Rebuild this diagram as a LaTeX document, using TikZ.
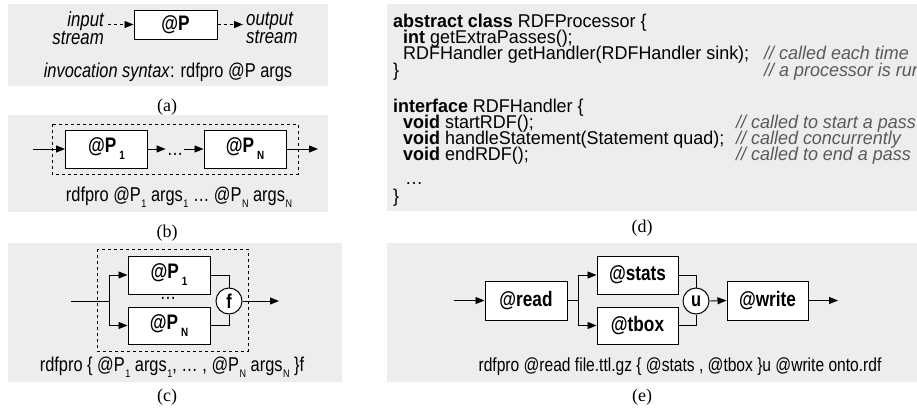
\documentclass[tikz,border=0pt]{standalone}
\usepackage{fontspec}
\setmainfont{Liberation Sans}[FakeStretch=0.82]
\newfontfamily\codefont{Liberation Sans}[FakeStretch=0.97]
\newfontfamily\labelfont{Liberation Serif}
\usetikzlibrary{arrows.meta}
\definecolor{panelgray}{HTML}{EDEDED}
\definecolor{commentgray}{HTML}{5A5A5A}
% lowered index used in captions and box labels
\newcommand\capsub[1]{\kern0.5pt\raisebox{-6pt}{\fontsize{11}{11}\selectfont #1}}
\newcommand\boxsub[1]{\kern3pt\raisebox{-7pt}{\fontsize{12}{12}\selectfont\bfseries #1}}
\begin{document}
\begin{tikzpicture}[x=1pt,y=-1pt,
  proc/.style={draw, line width=1pt, fill=white, minimum width=82pt, minimum height=38pt,
    inner sep=0pt, font=\fontsize{21}{21}\selectfont\bfseries},
  joiner/.style={draw, circle, line width=1pt, fill=white, minimum size=26pt, inner sep=0pt,
    font=\fontsize{20}{20}\selectfont\bfseries},
  flow/.style={line width=0.9pt, -{Triangle[length=9pt,width=7pt]}},
  wire/.style={line width=0.9pt},
  group/.style={draw, dashed, line width=0.8pt},
  caption/.style={font=\fontsize{20}{22}\selectfont, inner sep=0pt},
  streamlbl/.style={font=\fontsize{20.5}{17}\selectfont\itshape, inner sep=0pt},
  tag/.style={font=\labelfont\fontsize{18}{18}\selectfont, inner sep=0pt},
  codeline/.style={anchor=base west, inner sep=0pt, font=\codefont\fontsize{18.5}{18.5}\selectfont},
  comment/.style={anchor=base west, inner sep=0pt, text=commentgray,
    font=\codefont\fontsize{18.5}{18.5}\selectfont\itshape},
]
\useasboundingbox (0,0) rectangle (917,407);
\fill[white] (0,0) rectangle (917,407);

% panel backgrounds
\fill[panelgray] (8,4) rectangle (328,86);
\fill[panelgray] (8,115) rectangle (328,212);
\fill[panelgray] (8,243) rectangle (342,382);
\fill[panelgray] (387,4) rectangle (917,211);
\fill[panelgray] (387,243) rectangle (917,382);

% (a) a single processor
\node[proc, minimum width=83pt, minimum height=29pt] (pa) at (175.5,24.5) {@P};
\node[streamlbl, anchor=east, align=right] (instream) at (104,28) {input\\stream};
\node[streamlbl, anchor=west, align=left] (outstream) at (246,28) {output\\stream};
\draw[flow, dashed] (instream.east |- pa.west) ++(4,0) -- (pa.west);
\draw[flow, dashed] (pa.east) -- ([xshift=-3pt]outstream.west |- pa.east);
\node[caption] (capa) at (168,72) {\textit{invocation syntax}: rdfpro @P args};
\node[tag] (taga) at (167,107) {(a)};

% (b) sequence composition
\draw[group] (52,124) rectangle (298,174);
\node[proc] (b1) at (106.5,149) {@P\boxsub{1}};
\node[proc] (bn) at (245,149) {@P\boxsub{N}};
\node[inner sep=1pt, font=\fontsize{20}{20}\selectfont] (bdots) at (175,154) {…};
\coordinate (bin) at (33,149);
\coordinate (bout) at (318,149);
\draw[flow] (bin) -- (b1.west);
\draw[flow] (b1.east) -- (bdots.west |- b1.east);
\draw[flow] (bdots.east |- bn.west) -- (bn.west);
\draw[flow] (bn.east) -- (bout);
\node[caption] (capb) at (179,197) {rdfpro @P\capsub{1} args\capsub{1} … @P\capsub{N} args\capsub{N}};
\node[tag] (tagb) at (167,233) {(b)};

% (c) parallel composition
\draw[group] (97,249) rectangle (248,351);
\node[proc] (c1) at (169,275) {@P\boxsub{1}};
\node[proc, minimum height=37pt] (cn) at (169,325.5) {@P\boxsub{N}};
\node[inner sep=0pt, font=\fontsize{20}{20}\selectfont] (cdots) at (168,298) {…};
\node[joiner] (cf) at (229,301) {f};
\coordinate (cin) at (71,301);
\coordinate (cfork) at (109,301);
\coordinate (cout) at (279,301);
\draw[wire] (cin) -- (cfork);
\draw[flow] (cfork) |- (c1.west);
\draw[flow] (cfork) |- (cn.west);
\draw[wire] (c1.east) -| (cf.north);
\draw[wire] (cn.east) -| (cf.south);
\draw[flow] (cf.east) -- (cout);
\node[caption] (capc) at (172,367) {rdfpro \{ @P\capsub{1} args\capsub{1}, … , @P\capsub{N} args\capsub{N} \}f};
\node[tag] (tagc) at (167,397) {(c)};

% (d) Java API
\node[codeline] (l1) at (393,27) {\textbf{abstract class} RDFProcessor \{};
\node[codeline] (l2) at (403,43) {\textbf{int} getExtraPasses();};
\node[codeline] (l3) at (403,59) {RDFHandler getHandler(RDFHandler sink);};
\node[comment] (k3) at (764,59) {// called each time};
\node[codeline] (l4) at (393,76) {\}};
\node[comment] (k4) at (764,76) {// a processor is run};
\node[codeline] (l5) at (393,112) {\textbf{interface} RDFHandler \{};
\node[codeline] (l6) at (403,128) {\textbf{void} startRDF();};
\node[comment] (k6) at (736,128) {// called to start a pass};
\node[codeline] (l7) at (403,144) {\textbf{void} handleStatement(Statement quad);};
\node[comment] (k7) at (736,144) {// called concurrently};
\node[codeline] (l8) at (403,160) {\textbf{void} endRDF();};
\node[comment] (k8) at (736,160) {// called to end a pass};
\node[codeline] (l9) at (405,184) {…};
\node[codeline] (l10) at (393,202) {\}};
\node[tag] (tagd) at (642,228) {(d)};

% (e) example pipeline
\node[proc, minimum height=39pt] (eread) at (526,300.5) {@read};
\node[proc, minimum width=81pt] (estats) at (637.5,275) {@stats};
\node[proc, minimum width=81pt, minimum height=37pt] (etbox) at (637.5,325.5) {@tbox};
\node[joiner] (eu) at (696,301) {u};
\node[proc, minimum width=81pt, minimum height=39pt] (ewrite) at (767.5,300.5) {@write};
\coordinate (ein) at (454,300.5);
\coordinate (efork) at (578,300.5);
\coordinate (eout) at (838,300.5);
\draw[flow] (ein) -- (eread.west);
\draw[wire] (eread.east) -- (efork);
\draw[flow] (efork) |- (estats.west);
\draw[flow] (efork) |- (etbox.west);
\draw[wire] (estats.east) -| (eu.north);
\draw[wire] (etbox.east) -| (eu.south);
\draw[flow] (eu.east) -- (ewrite.west);
\draw[flow] (ewrite.east) -- (eout);
\node[caption, font=\fontsize{19}{21}\selectfont] (cape) at (680,367) {rdfpro @read file.ttl.gz \{ @stats , @tbox \}u @write onto.rdf};
\node[tag] (tage) at (642,397) {(e)};
\end{tikzpicture}
\end{document}
